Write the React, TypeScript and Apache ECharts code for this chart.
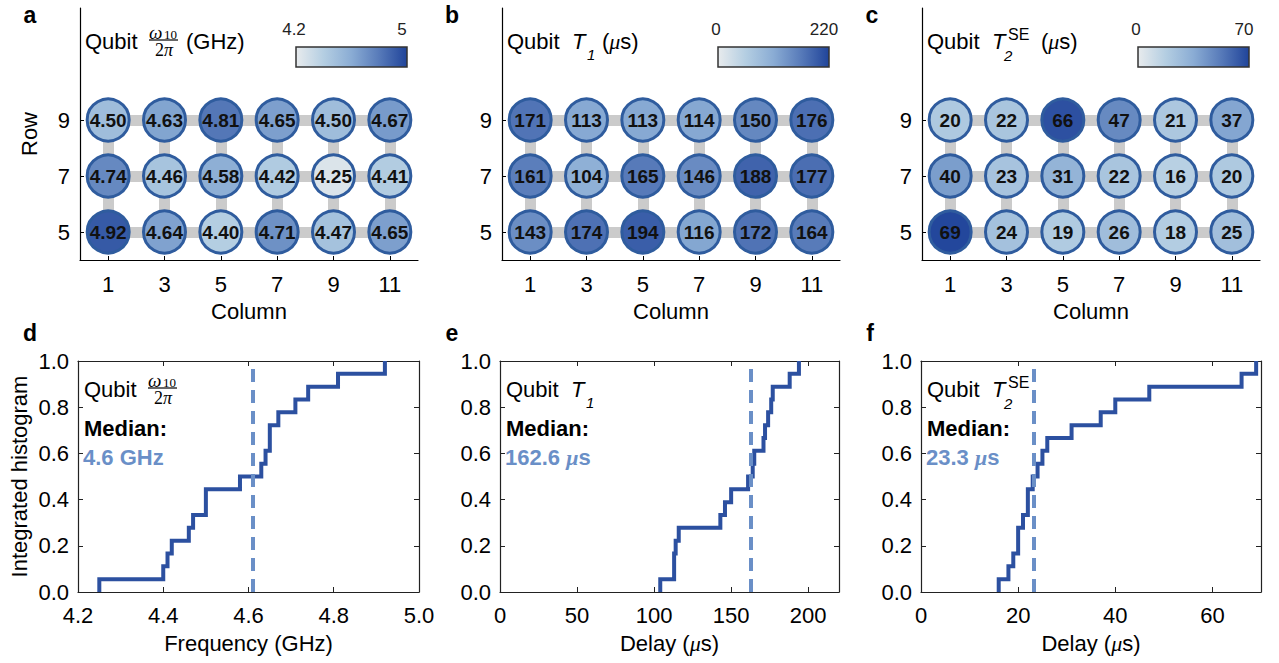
import React, { useEffect, useRef } from "react";
import * as echarts from "echarts";

// ---------- data ----------
const columns = [1, 3, 5, 7, 9, 11];
const rows = [9, 7, 5];
const freqGrid = [
  [4.5, 4.63, 4.81, 4.65, 4.5, 4.67],
  [4.74, 4.46, 4.58, 4.42, 4.25, 4.41],
  [4.92, 4.64, 4.4, 4.71, 4.47, 4.65],
];
const t1Grid = [
  [171, 113, 113, 114, 150, 176],
  [161, 104, 165, 146, 188, 177],
  [143, 174, 194, 116, 172, 164],
];
const t2Grid = [
  [20, 22, 66, 47, 21, 37],
  [40, 23, 31, 22, 16, 20],
  [69, 24, 19, 26, 18, 25],
];
const colorRanges = [
  [4.2, 5],
  [0, 220],
  [0, 70],
];
const colorbarLabels = [
  ["4.2", "5"],
  ["0", "220"],
  ["0", "70"],
];
const medians = [4.605, 162.6, 23.3];
const medianLabels = ["4.6 GHz", "162.6 {mu|μ}s", "23.3 {mu|μ}s"];
const cdfXRanges = [
  [4.2, 5.0],
  [0, 220],
  [0, 70],
];
const cdfXTicks = [
  [4.2, 4.4, 4.6, 4.8, 5.0],
  [0, 50, 100, 150, 200],
  [0, 20, 40, 60],
];
const cdfYTicks = [0, 0.2, 0.4, 0.6, 0.8, 1.0];
const cdfXNames = ["Frequency (GHz)", "Delay ({mu|μ}s)", "Delay ({mu|μ}s)"];
const panelLetters = ["a", "b", "c", "d", "e", "f"];
const colormap = ["#e8ebed", "#b4cee2", "#8aacd4", "#577ab9", "#20449a"];

// ---------- layout ----------
const SANS = "'Liberation Sans', Arial, Helvetica, sans-serif";
const SERIF = "'Liberation Serif', 'Times New Roman', serif";
const topLeft = [80, 502, 922];
const botLeft = [78, 500, 921];
const botWidth = [341, 339, 340];
const TOP_Y = 8;
const TOP_W = 338;
const TOP_H = 252;
const BOT_Y = 361;
const BOT_H = 231;
const AXIS_COLOR = "#000";
const BOX_COLOR = "#222";

const grids = [flatGrid(freqGrid), flatGrid(t1Grid), flatGrid(t2Grid)];

function flatGrid(g: number[][]) {
  const out: number[][] = [];
  rows.forEach((r, ri) => columns.forEach((c, ci) => out.push([c, r, g[ri][ci]])));
  return out;
}

function cdfPoints(g: number[][]) {
  const v = g.flat().slice().sort((a, b) => a - b);
  const n = v.length;
  const pts: number[][] = [];
  v.forEach((x, i) => {
    pts.push([x, i / n]);
    pts.push([x, (i + 1) / n]);
  });
  return pts;
}

function txt(x: number, y: number, text: string, opts: any = {}) {
  return {
    type: "text",
    x,
    y,
    silent: true,
    z: 100,
    style: {
      text,
      fontSize: 22,
      fontFamily: SANS,
      fill: "#000",
      textAlign: "left",
      textVerticalAlign: "middle",
      ...opts,
    },
  };
}

const muRich = { mu: { fontFamily: SERIF, fontStyle: "italic", fontSize: 22 } };

function freqTitle(x: number, cy: number, unit: boolean) {
  const els: any[] = [txt(x, cy, "Qubit")];
  els.push(txt(x + 64, cy - 9, "ω", { fontFamily: SERIF, fontStyle: "italic", fontSize: 19 }));
  els.push(txt(x + 79, cy - 7, "10", { fontFamily: SERIF, fontSize: 13 }));
  els.push({
    type: "line",
    silent: true,
    shape: { x1: x + 64, y1: cy - 1, x2: x + 93, y2: cy - 1 },
    style: { stroke: "#000", lineWidth: 1.2 },
  });
  els.push(
    txt(x + 79, cy + 9, "2{p|π}", {
      fontFamily: SERIF,
      fontSize: 18,
      textAlign: "center",
      rich: { p: { fontFamily: SERIF, fontStyle: "italic", fontSize: 18 } },
    })
  );
  if (unit) els.push(txt(x + 101, cy, "(GHz)"));
  return els;
}

function t1Title(x: number, cy: number, unit: boolean) {
  const els: any[] = [txt(x, cy, "Qubit")];
  els.push(txt(x + 65, cy, "T", { fontStyle: "italic" }));
  els.push(txt(x + 80, cy + 13, "1", { fontStyle: "italic", fontSize: 15 }));
  if (unit) els.push(txt(x + 95, cy, "({mu|μ}s)", { rich: muRich }));
  return els;
}

function t2Title(x: number, cy: number, unit: boolean) {
  const els: any[] = [txt(x, cy, "Qubit")];
  els.push(txt(x + 65, cy, "T", { fontStyle: "italic" }));
  els.push(txt(x + 81, cy - 7, "SE", { fontSize: 16 }));
  els.push(txt(x + 77, cy + 14, "2", { fontStyle: "italic", fontSize: 15 }));
  if (unit) els.push(txt(x + 114, cy, "({mu|μ}s)", { rich: muRich }));
  return els;
}

const titleFns = [freqTitle, t1Title, t2Title];

function buildOption() {
  const grid: any[] = [];
  const xAxis: any[] = [];
  const yAxis: any[] = [];
  const series: any[] = [];
  const visualMap: any[] = [];
  const graphic: any[] = [];

  const labelStyle = { fontSize: 22, color: "#000", fontFamily: SANS };

  // top panels
  for (let i = 0; i < 3; i++) {
    grid.push({ left: topLeft[i], top: TOP_Y, width: TOP_W, height: TOP_H });
    xAxis.push({
      type: "value",
      gridIndex: i,
      min: 0,
      max: 12,
      axisLine: { show: true, onZero: false, lineStyle: { color: AXIS_COLOR, width: 1.2 } },
      axisTick: { show: true, inside: true, length: 4, customValues: columns, lineStyle: { color: AXIS_COLOR } },
      axisLabel: { ...labelStyle, margin: 13, customValues: columns },
      splitLine: { show: false },
      name: "Column",
      nameLocation: "middle",
      nameGap: 40,
      nameTextStyle: { ...labelStyle },
    });
    yAxis.push({
      type: "value",
      gridIndex: i,
      min: 4,
      max: 13,
      axisLine: { show: true, onZero: false, lineStyle: { color: AXIS_COLOR, width: 1.2 } },
      axisTick: { show: true, inside: true, length: 4, customValues: rows, lineStyle: { color: AXIS_COLOR } },
      axisLabel: { ...labelStyle, margin: 10, customValues: rows },
      splitLine: { show: false },
      name: i === 0 ? "Row" : "",
      nameLocation: "middle",
      nameGap: 40,
      nameTextStyle: { ...labelStyle },
    });
    const links: any[] = [];
    rows.forEach((r) => links.push({ coords: [[columns[0], r], [columns[columns.length - 1], r]] }));
    columns.forEach((c) => links.push({ coords: [[c, Math.min(...rows)], [c, Math.max(...rows)]] }));
    series.push({
      type: "lines",
      coordinateSystem: "cartesian2d",
      xAxisIndex: i,
      yAxisIndex: i,
      silent: true,
      z: 2,
      lineStyle: { color: "#cbcbcb", width: 11, opacity: 1, cap: "butt" },
      data: links,
    });
    const seriesIndex = series.length;
    series.push({
      type: "scatter",
      xAxisIndex: i,
      yAxisIndex: i,
      z: 3,
      symbol: "circle",
      symbolSize: 42,
      itemStyle: { borderColor: "#2f5c9e", borderWidth: 3, opacity: 1 },
      label: {
        show: true,
        position: "inside",
        fontSize: 19,
        fontWeight: "bold",
        fontFamily: SANS,
        color: "#111",
        formatter: (p: any) => (i === 0 ? p.value[2].toFixed(2) : String(p.value[2])),
      },
      data: grids[i],
    });
    visualMap.push({
      type: "continuous",
      show: false,
      seriesIndex,
      dimension: 2,
      min: colorRanges[i][0],
      max: colorRanges[i][1],
      inRange: { color: colormap },
    });

    // colorbar
    const x0 = topLeft[i];
    graphic.push({
      type: "rect",
      silent: true,
      z: 100,
      shape: { x: x0 + 216, y: 47, width: 111, height: 20 },
      style: {
        fill: {
          type: "linear",
          x: 0,
          y: 0,
          x2: 1,
          y2: 0,
          colorStops: colormap.map((c, k) => ({ offset: k / (colormap.length - 1), color: c })),
        },
        stroke: "#333",
        lineWidth: 1.5,
      },
    });
    graphic.push(txt(x0 + 214, 29, colorbarLabels[i][0], { fontSize: 17, textAlign: "center", fill: "#222" }));
    graphic.push(txt(x0 + 322, 29, colorbarLabels[i][1], { fontSize: 17, textAlign: "center", fill: "#222" }));
    graphic.push(...titleFns[i](x0 + 5, 41, true));
  }

  // bottom panels
  for (let i = 0; i < 3; i++) {
    grid.push({ left: botLeft[i], top: BOT_Y, width: botWidth[i], height: BOT_H });
  }
  for (let i = 0; i < 3; i++) {
    const gi = 3 + i;
    xAxis.push({
      type: "value",
      gridIndex: gi,
      min: cdfXRanges[i][0],
      max: cdfXRanges[i][1],
      axisLine: { show: true, onZero: false, lineStyle: { color: BOX_COLOR, width: 1.2 } },
      axisTick: { show: true, inside: true, length: 5, customValues: cdfXTicks[i], lineStyle: { color: BOX_COLOR } },
      axisLabel: {
        ...labelStyle,
        margin: 12,
        customValues: cdfXTicks[i],
        formatter: (v: number) => (i === 0 ? v.toFixed(1) : String(v)),
      },
      splitLine: { show: false },
      name: cdfXNames[i],
      nameLocation: "middle",
      nameGap: 40,
      nameTextStyle: { ...labelStyle, rich: muRich },
    });
    yAxis.push({
      type: "value",
      gridIndex: gi,
      min: 0,
      max: 1,
      axisLine: { show: true, onZero: false, lineStyle: { color: BOX_COLOR, width: 1.2 } },
      axisTick: { show: true, inside: true, length: 5, customValues: cdfYTicks, lineStyle: { color: BOX_COLOR } },
      axisLabel: {
        ...labelStyle,
        margin: 9,
        customValues: cdfYTicks,
        formatter: (v: number) => v.toFixed(1),
      },
      splitLine: { show: false },
      name: i === 0 ? "Integrated histogram" : "",
      nameLocation: "middle",
      nameGap: 48,
      nameTextStyle: { ...labelStyle },
    });
  }
  // mirror axes (top / right) for the boxed bottom panels
  for (let i = 0; i < 3; i++) {
    const gi = 3 + i;
    xAxis.push({
      type: "value",
      gridIndex: gi,
      position: "top",
      min: cdfXRanges[i][0],
      max: cdfXRanges[i][1],
      axisLine: { show: true, onZero: false, lineStyle: { color: BOX_COLOR, width: 1.2 } },
      axisTick: { show: true, inside: true, length: 5, customValues: cdfXTicks[i], lineStyle: { color: BOX_COLOR } },
      axisLabel: { show: false },
      splitLine: { show: false },
    });
    yAxis.push({
      type: "value",
      gridIndex: gi,
      position: "right",
      min: 0,
      max: 1,
      axisLine: { show: true, onZero: false, lineStyle: { color: BOX_COLOR, width: 1.2 } },
      axisTick: { show: true, inside: true, length: 5, customValues: cdfYTicks, lineStyle: { color: BOX_COLOR } },
      axisLabel: { show: false },
      splitLine: { show: false },
    });
  }
  const sourceGrids = [freqGrid, t1Grid, t2Grid];
  for (let i = 0; i < 3; i++) {
    series.push({
      type: "line",
      xAxisIndex: 3 + i,
      yAxisIndex: 3 + i,
      showSymbol: false,
      symbol: "none",
      z: 3,
      lineStyle: { color: "#2c50a0", width: 4, join: "miter", cap: "butt" },
      data: cdfPoints(sourceGrids[i]),
      markLine: {
        silent: true,
        symbol: "none",
        label: { show: false },
        lineStyle: { color: "#6a8fc7", width: 4, type: [13, 8] },
        data: [{ xAxis: medians[i] }],
        z: 4,
      },
    });
    const x0 = botLeft[i] + 6;
    graphic.push(...titleFns[i](x0, 389, false));
    graphic.push(txt(x0, 428, "Median:", { fontWeight: "bold" }));
    graphic.push(
      txt(x0 - 1, 457, medianLabels[i], {
        fontWeight: "bold",
        fill: "#6a8fc7",
        rich: { mu: { fontFamily: SERIF, fontStyle: "italic", fontWeight: "bold", fontSize: 22, fill: "#6a8fc7" } },
      })
    );
  }

  // panel letters
  const letterPos = [
    [30, 15],
    [452, 15],
    [872, 15],
    [30, 333],
    [452, 333],
    [870, 333],
  ];
  panelLetters.forEach((l, k) =>
    graphic.push(txt(letterPos[k][0], letterPos[k][1], l, { fontWeight: "bold", fontSize: 23, textAlign: "center" }))
  );

  return {
    animation: false,
    backgroundColor: "#fff",
    grid,
    xAxis,
    yAxis,
    visualMap,
    series,
    graphic: { elements: graphic },
  };
}

export default function App() {
  const ref = useRef<HTMLDivElement>(null);
  useEffect(() => {
    document.body.style.margin = "0";
    if (!ref.current) return;
    const chart = echarts.init(ref.current, undefined, { renderer: "svg" });
    chart.setOption(buildOption() as any);
    return () => chart.dispose();
  }, []);
  return <div ref={ref} style={{ width: 1279, height: 663 }} />;
}
